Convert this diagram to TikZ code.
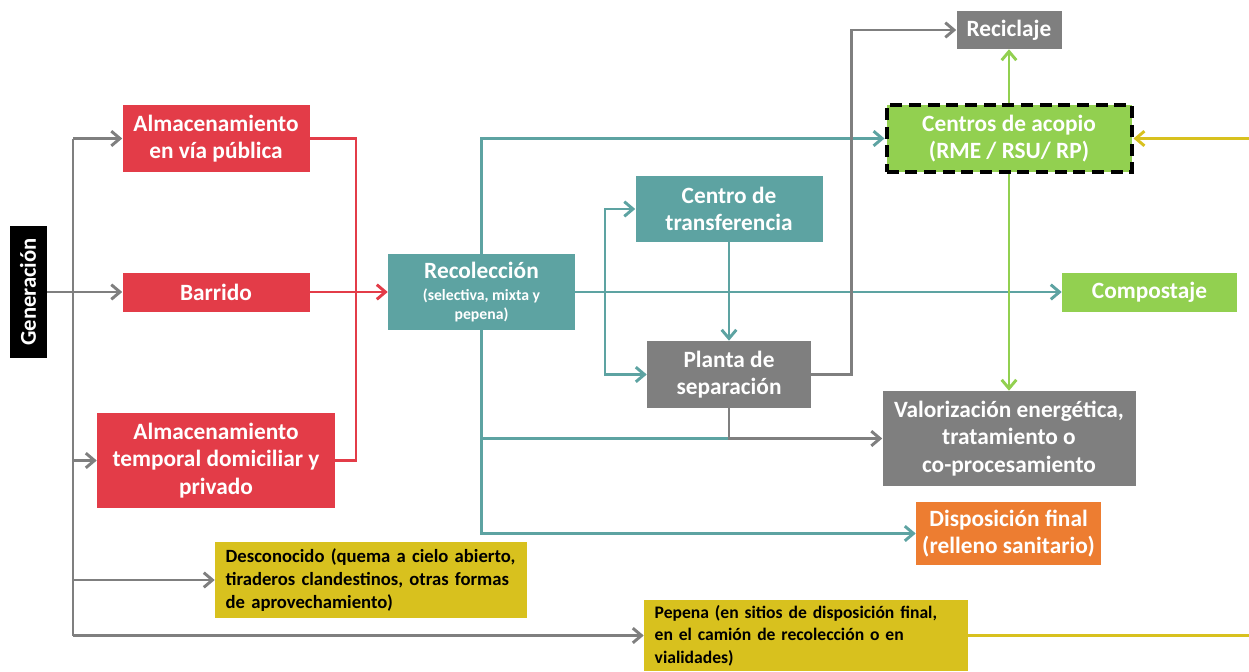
\documentclass[tikz,border=0pt]{standalone}
\usepackage{fontspec}
\setmainfont{Carlito}
\usetikzlibrary{arrows.meta}
\definecolor{rojo}{HTML}{E33C48}
\definecolor{verdeazul}{HTML}{5DA3A2}
\definecolor{gris}{HTML}{7F7F7F}
\definecolor{verde}{HTML}{92D050}
\definecolor{naranja}{HTML}{ED7D31}
\definecolor{amarillo}{HTML}{D8C11E}
\newcommand{\subtxt}{\fontsize{11.8}{14}\selectfont}
\newcommand{\pocoespacio}{\spaceskip=0.15em\relax}

\begin{document}
\begin{tikzpicture}[x=0.75pt,y=-0.75pt,inner sep=0pt,
  font=\fontsize{17.5}{20.5}\selectfont\bfseries,
  >={Straight Barb[length=6.5pt,width=11pt]},
  caja/.style={rectangle,fill=#1,text=white,align=center},
  nota/.style={rectangle,fill=amarillo,text=black,align=left,inner xsep=8pt,
    font=\fontsize{14}{17}\selectfont\bfseries},
  linea/.style={draw=#1,line width=2.2pt},
  flecha/.style={linea=#1,->}]
\useasboundingbox (0,0) rectangle (1249,671);
% cajas
\node at (28,292) [caja=black,rotate=90,minimum width=99pt,minimum height=27.75pt,font=\fontsize{17}{20}\selectfont\bfseries] (Gen) {Generación};
\node at (216,138.5) [caja=rojo,minimum width=140.25pt,minimum height=50.25pt] (AlmVia) {Almacenamiento\\en vía pública};
\node at (216,292) [caja=rojo,minimum width=140.25pt,minimum height=29.25pt] (Barrido) {Barrido};
\node at (216,460.5) [caja=rojo,minimum width=178.5pt,minimum height=71.25pt] (AlmTemp) {Almacenamiento\\temporal domiciliar y\\privado};
\node at (481.5,292) [caja=verdeazul,minimum width=140.25pt,minimum height=57pt] (Recol) {Recolección\\[-4pt]\subtxt (selectiva, mixta y\\[-6pt]\subtxt pepena)};
\node at (729,209) [caja=verdeazul,minimum width=140.25pt,minimum height=49.5pt] (CTrans) {Centro de\\transferencia};
\node at (729,374.5) [caja=gris,minimum width=123pt,minimum height=50.25pt] (Planta) {Planta de\\separación};
\node at (1009,30) [caja=gris,minimum width=78.75pt,minimum height=28.5pt] (Recic) {Reciclaje};
\node at (1009,138.5) [caja=verde,minimum width=183.75pt,minimum height=50.25pt,draw=black,line width=3pt,dash pattern=on 9pt off 5pt] (Acopio) {Centros de acopio\\(RME / RSU/ RP)};
\node at (1149.5,292) [caja=verde,minimum width=131.25pt,minimum height=29.25pt] (Compost) {Compostaje};
\node at (1009,438.5) [caja=gris,minimum width=189.75pt,minimum height=71.25pt] (Valor) {Valorización energética,\\tratamiento o\\co-procesamiento};
\node at (1008.5,533.5) [caja=naranja,minimum width=138.75pt,minimum height=47.25pt] (Dispo) {Disposición final\\(relleno sanitario)};
\node at (371,580) [nota,text width=218pt,minimum height=57pt] (Desc) {Desconocido (quema a cielo abierto,\\tiraderos clandestinos, otras formas\\de aprovechamiento)};
\node at (806,635.5) [nota,text width=227pt,minimum height=53.25pt,font=\fontsize{13.2}{17}\selectfont\bfseries\pocoespacio] (Pepena) {Pepena (en sitios de disposición final,\\en el camión de recolección o en\\vialidades)};
% puntos de quiebre
\coordinate (GTop) at (73,138.5);
\coordinate (GBot) at (73,635.5);
\coordinate (RCod) at (356,138.5);
\coordinate (TBr) at (605,292);
% generacion
\draw[flecha=gris] (Gen) -- (Barrido);
\draw[linea=gris] (GTop) -- (GBot);
\draw[flecha=gris] (GTop) -- (AlmVia);
\draw[flecha=gris] (GTop |- AlmTemp) -- (AlmTemp);
\draw[flecha=gris] (GTop |- Desc) -- (Desc);
\draw[flecha=gris] (GBot) -- (Pepena);
% almacenamiento
\draw[linea=rojo] (AlmVia.east) -- (RCod) |- (AlmTemp.east);
\draw[flecha=rojo] (Barrido) -- (Recol);
% recoleccion
\draw[flecha=verdeazul] (Recol.north) |- (Acopio);
\draw[flecha=verdeazul] (Recol.south) |- (Dispo);
\draw[linea=verdeazul] (Recol.south |- Valor) -- (Planta.south |- Valor);
\draw[flecha=verdeazul] (Recol) -- (Compost);
\draw[flecha=verdeazul] (TBr) |- (CTrans);
\draw[flecha=verdeazul] (TBr) |- (Planta);
\draw[flecha=verdeazul] (CTrans) -- (Planta);
% separacion
\draw[flecha=gris] (Planta.east) -- ++(40,0) |- (Recic);
\draw[flecha=gris] (Planta.south) |- (Valor);
% acopio
\draw[flecha=verde] (Acopio) -- (Recic);
\draw[flecha=verde] (Acopio) -- (Valor);
\draw[flecha=amarillo] (Pepena.east) -- ++(282,0) |- (Acopio);
\end{tikzpicture}
\end{document}
